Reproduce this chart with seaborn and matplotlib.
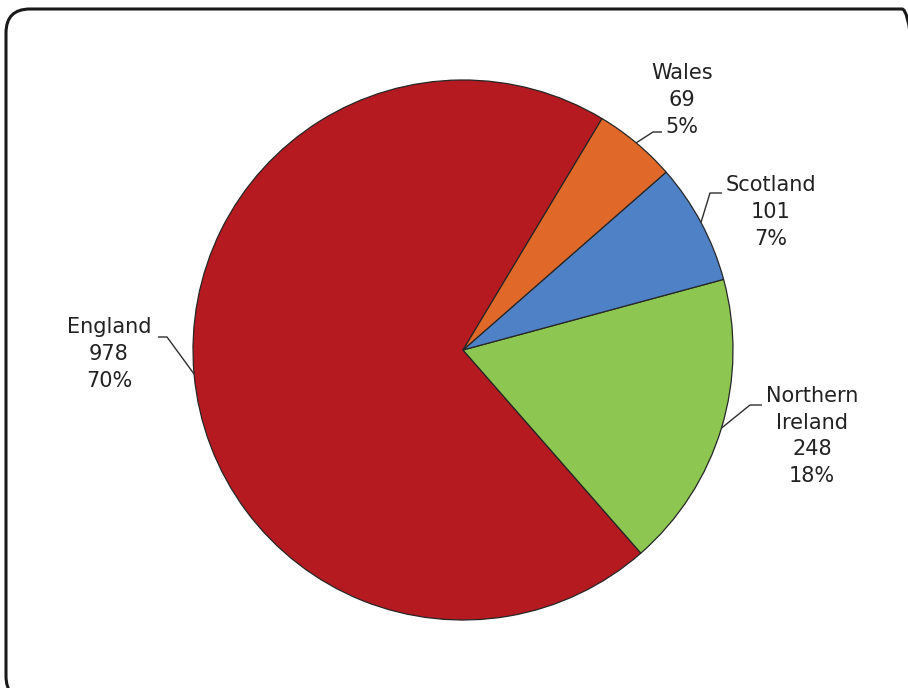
import matplotlib
matplotlib.use("Agg")
import matplotlib.pyplot as plt
from matplotlib.patches import FancyBboxPatch
import seaborn as sns
import numpy as np

# Data (counter-clockwise order starting at the Wales/England boundary)
categories = ["England", "Northern Ireland", "Scotland", "Wales"]
values = [978, 248, 101, 69]
label_lines = ["England\n978\n70%", "Northern\nIreland\n248\n18%", "Scotland\n101\n7%", "Wales\n69\n5%"]
colors = ["#B41A20", "#8DC651", "#4F81C7", "#E0692A"]

sns.set_theme(style="white")
plt.rcParams['font.family'] = ['DejaVu Sans']

W, H = 908, 688
CX, CY, R = 463, 350, 270

fig = plt.figure(figsize=(W / 100, H / 100), dpi=100)
ax = fig.add_axes([0, 0, 1, 1])

wedges, _ = ax.pie(values, colors=colors, startangle=59, counterclock=True,
                   radius=1.0, center=(0, 0),
                   wedgeprops=dict(edgecolor="#262626", linewidth=0.9))
ax.set_xlim(-CX / R, (W - CX) / R)
ax.set_ylim(-(H - CY) / R, CY / R)
ax.set_aspect("equal", adjustable="datalim")
ax.axis("off")


def px(x, y):
    return (x - CX) / R, (CY - y) / R

# label styling: (elbow px, end px, text center px)
label_pos = {
    "England": ((167, 337), (158, 337), (109, 354)),
    "Northern Ireland": ((750, 405), (762, 405), (812, 436)),
    "Scotland": ((710, 193), (722, 193), (771, 212)),
    "Wales": ((653, 132), (662, 132), (682, 100)),
}

for w, cat, txt in zip(wedges, categories, label_lines):
    mid = np.deg2rad((w.theta1 + w.theta2) / 2)
    sx, sy = np.cos(mid), np.sin(mid)
    elbow, end, tc = label_pos[cat]
    ex, ey = px(*elbow)
    nx, ny = px(*end)
    ax.plot([sx, ex, nx], [sy, ey, ny], color="#2e2e2e", lw=1.0, solid_capstyle="butt")
    tx, ty = px(*tc)
    ax.text(tx, ty, txt, ha="center", va="center", fontsize=15,
            color="#222222", linespacing=1.42, multialignment="center")

# rounded frame drawn as a figure-level path in pixel units
fx0, fy_top, fx1, fy_bot, rr = 6, 9, 926, 700, 24
border = FancyBboxPatch((fx0 / W, 1 - fy_bot / H), (fx1 - fx0) / W, (fy_bot - fy_top) / H,
                        boxstyle=f"round,pad=0,rounding_size={rr / W}",
                        mutation_aspect=W / H,
                        transform=fig.transFigure, figure=fig,
                        fill=False, edgecolor="#1a1a1a", linewidth=2.2,
                        clip_on=False)
fig.patches.append(border)

fig.savefig("out.png", dpi=100, facecolor="white")
